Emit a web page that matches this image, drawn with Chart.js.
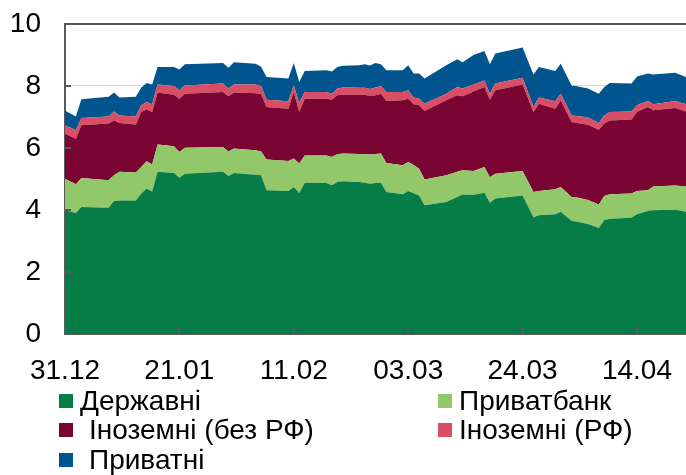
<!DOCTYPE html>
<html>
<head>
<meta charset="utf-8">
<script src="https://cdn.jsdelivr.net/npm/chart.js@4/dist/chart.umd.min.js"></script>
<style>
  body { margin: 0; background: #fff; }
  #wrap { position: relative; width: 686px; height: 475px; font-family: "Liberation Sans", Arial, sans-serif; }
  #legend { position: absolute; left: 59px; top: 386px; display: grid; grid-template-columns: 379px 240px; grid-auto-rows: 29.5px; }
  .item { display: flex; align-items: center; font-size: 28px; color: #000; white-space: nowrap; }
  .box { width: 14px; height: 14px; margin-right: 7px; flex: none; }
</style>
</head>
<body>
<div id="wrap">
  <canvas id="areaChart" width="686" height="475"></canvas>
  <div id="legend"></div>
</div>
<script>
// дні від 31.12
const days = [0,2,3,8,9,10,13,14,15,16,17,20,21,22,29,30,31,35,36,37,41,42,43,44,48,49,50,51,54,55,56,57,58,59,62,63,64,65,66,70,72,73,75,77,78,79,84,86,87,90,91,93,94,96,98,99,100,104,105,107,108,112,114];

const tickDays = [0, 21, 42, 63, 84, 105];
const tickLabels = ['31.12', '21.01', '11.02', '03.03', '24.03', '14.04'];

const derzhavni = [3.99,3.90,4.10,4.07,4.29,4.31,4.31,4.53,4.69,4.60,
  5.23,5.19,5.04,5.17,5.23,5.10,5.19,5.14,5.12,4.64,
  4.61,4.74,4.55,4.88,4.87,4.80,4.90,4.93,4.90,4.88,
  4.85,4.87,4.88,4.58,4.51,4.61,4.54,4.47,4.15,4.26,
  4.42,4.50,4.49,4.56,4.23,4.37,4.47,3.77,3.83,3.86,
  3.94,3.65,3.62,3.55,3.42,3.68,3.72,3.75,3.86,3.97,
  3.99,4.01,3.94];
const privatbank = [1.02,0.93,0.93,0.89,0.83,0.92,0.90,0.86,0.88,0.87,
  0.88,0.87,0.83,0.84,0.80,0.79,0.79,0.79,0.77,0.99,
  0.97,0.92,0.95,0.88,0.89,0.91,0.90,0.89,0.91,0.92,
  0.94,0.94,0.94,0.94,0.93,0.94,0.91,0.86,0.83,0.86,
  0.81,0.78,0.77,0.83,0.83,0.80,0.79,0.81,0.78,0.81,
  0.80,0.77,0.78,0.77,0.76,0.77,0.79,0.78,0.75,0.67,
  0.77,0.78,0.82];
const inozemni = [1.45,1.47,1.70,1.83,1.77,1.58,1.55,1.77,1.68,1.69,
  1.68,1.66,1.72,1.74,1.78,1.78,1.81,1.84,1.85,1.69,
  1.69,2.15,1.66,1.83,1.83,1.85,1.90,1.90,1.91,1.92,
  1.89,1.89,1.93,2.00,2.10,2.04,1.96,2.05,2.21,2.42,
  2.47,2.39,2.56,2.58,2.50,2.69,2.79,2.58,2.82,2.60,
  2.80,2.42,2.41,2.43,2.41,2.34,2.38,2.39,2.55,2.68,
  2.46,2.50,2.42];
const inozemniRF = [0.27,0.27,0.24,0.23,0.29,0.24,0.26,0.22,0.23,0.25,
  0.26,0.28,0.27,0.27,0.27,0.25,0.26,0.28,0.26,0.24,
  0.24,0.21,0.29,0.22,0.22,0.19,0.22,0.23,0.22,0.22,
  0.22,0.25,0.25,0.29,0.27,0.27,0.22,0.21,0.24,0.21,
  0.27,0.25,0.23,0.21,0.19,0.22,0.22,0.16,0.20,0.24,
  0.21,0.21,0.22,0.23,0.22,0.26,0.27,0.26,0.22,0.20,
  0.19,0.23,0.23];
const pryvatni = [0.48,0.45,0.60,0.63,0.61,0.58,0.63,0.57,0.62,0.64,
  0.56,0.61,0.67,0.68,0.66,0.67,0.72,0.67,0.62,0.73,
  0.73,0.72,0.68,0.67,0.70,0.72,0.69,0.70,0.73,0.76,
  0.76,0.79,0.70,0.70,0.70,0.81,0.77,0.81,0.81,0.92,
  0.89,0.85,0.95,0.95,0.95,0.97,0.97,1.05,0.98,0.97,
  0.97,0.97,0.96,0.94,0.94,0.92,0.94,0.90,0.93,0.88,
  0.96,0.91,0.88];

const series = [
  { label: 'Державні', data: derzhavni, color: '#067d46' },
  { label: 'Приватбанк', data: privatbank, color: '#92c86a' },
  { label: 'Іноземні (без РФ)', data: inozemni, color: '#7b0532' },
  { label: 'Іноземні (РФ)', data: inozemniRF, color: '#da4e65' },
  { label: 'Приватні', data: pryvatni, color: '#00558f' }
];

const axisColor = '#595959';
const font = { family: '"Liberation Sans", Arial, sans-serif', size: 28 };

// внутрішні поділки на осях
const innerTicks = {
  id: 'innerTicks',
  afterDatasetsDraw(chart) {
    const { ctx, chartArea, scales } = chart;
    ctx.save();
    ctx.strokeStyle = axisColor;
    ctx.lineWidth = 2;
    ctx.beginPath();
    for (let v = 0; v <= 10; v += 2) {
      const py = Math.round(scales.y.getPixelForValue(v));
      ctx.moveTo(chartArea.left, py);
      ctx.lineTo(chartArea.left + 6, py);
    }
    tickDays.forEach(d => {
      const px = Math.round(scales.x.getPixelForValue(d));
      ctx.moveTo(px, chartArea.bottom);
      ctx.lineTo(px, chartArea.bottom - 7);
    });
    ctx.stroke();
    ctx.restore();
  }
};

const ctx = document.getElementById('areaChart').getContext('2d');
const chart = new Chart(ctx, {
  type: 'line',
  data: {
    datasets: series.map((s, i) => ({
      label: s.label,
      data: days.map((d, k) => ({ x: d, y: s.data[k] })),
      backgroundColor: s.color,
      borderColor: s.color,
      borderWidth: 0,
      pointRadius: 0,
      tension: 0,
      fill: i === 0 ? 'origin' : '-1'
    }))
  },
  options: {
    responsive: false,
    animation: false,
    devicePixelRatio: 1,
    layout: { padding: { top: 24, right: 0, bottom: 0, left: 0 } },
    plugins: {
      legend: { display: false },
      tooltip: { enabled: false }
    },
    scales: {
      x: {
        type: 'linear',
        min: 0,
        max: 114,
        grid: { display: false },
        border: { color: axisColor, width: 2 },
        afterBuildTicks: scale => { scale.ticks = tickDays.map(v => ({ value: v })); },
        afterFit: scale => { scale.height = 141; },
        ticks: {
          autoSkip: false,
          maxRotation: 0,
          padding: 12,
          color: '#000',
          font: font,
          callback: (v, i) => tickLabels[i]
        }
      },
      y: {
        stacked: true,
        min: 0,
        max: 10,
        afterFit: scale => {
          scale.width = 65;
          scale.paddingTop = 0;
          scale.paddingBottom = 0;
        },
        grid: {
          drawTicks: false,
          color: c => c.tick && c.tick.value === 10 ? axisColor : '#d9d9d9',
          lineWidth: c => c.tick && c.tick.value === 10 ? 2 : 1
        },
        border: { color: axisColor, width: 2 },
        ticks: { stepSize: 2, padding: 24, color: '#000', font: font }
      }
    }
  },
  plugins: [innerTicks]
});

// легенда у два стовпці
const legend = document.getElementById('legend');
series.forEach((s, i) => {
  const item = document.createElement('div');
  item.className = 'item';
  const box = document.createElement('span');
  box.className = 'box';
  box.style.background = s.color;
  if (i === 2 || i === 4) box.style.marginRight = '16px';
  item.appendChild(box);
  item.appendChild(document.createTextNode(s.label));
  legend.appendChild(item);
});
</script>
</body>
</html>
